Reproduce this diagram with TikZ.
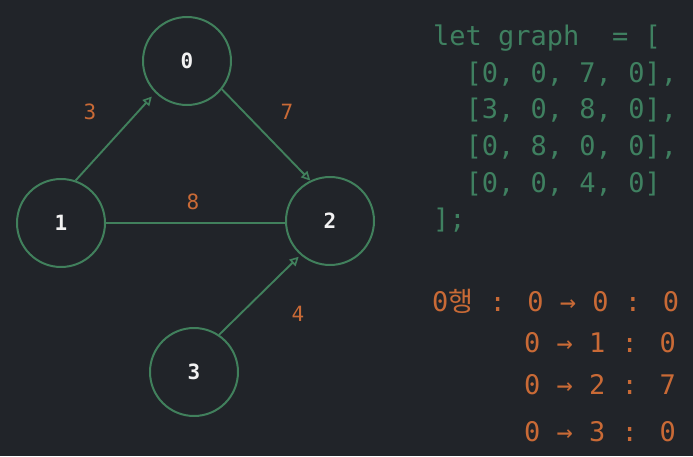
\documentclass[tikz,border=0pt]{standalone}
\usepackage{fontspec}
\newfontfamily\monof{DejaVu Sans Mono}
\newfontfamily\cjk{Noto Sans CJK KR}
\usetikzlibrary{arrows.meta}
\definecolor{bgc}{HTML}{212429}
\definecolor{edgec}{HTML}{41805C}
\definecolor{codec}{HTML}{3F8060}
\definecolor{orangec}{HTML}{C96A36}
\definecolor{labc}{HTML}{F2F2F2}
\tikzset{
  vert/.style={circle, draw=edgec, line width=2pt, minimum size=88pt, inner sep=0pt,
    text=labc, font=\monof\bfseries\fontsize{21}{21}\selectfont},
  conn/.style={draw=edgec, line width=1.9pt},
  arr/.style={conn, -{Triangle[open, length=9pt, width=9pt, line width=1.6pt]}},
  wlab/.style={text=orangec, font=\monof\fontsize{21}{21}\selectfont, inner sep=0pt},
  codeline/.style={anchor=base west, inner sep=0pt, text=codec, font=\monof\fontsize{27}{27}\selectfont},
  outline/.style={anchor=base west, inner sep=0pt, text=orangec, font=\monof\fontsize{27}{27}\selectfont}
}
\begin{document}
\begin{tikzpicture}[x=1pt,y=1pt]
\fill[bgc] (0,0) rectangle (693,456);
\useasboundingbox (0,0) rectangle (693,456);
% vertices
\node[vert] (n0) at (187,395) {0};
\node[vert] (n1) at (61,233) {1};
\node[vert] (n2) at (330,235) {2};
\node[vert] (n3) at (194,84) {3};
% edges
\draw[arr, shorten >=5pt] (n1.71.6) -- (n0.225.8);
\draw[arr] (n0.-39.8) -- (n2.116.6);
\draw[conn] (n1.east) -- (n1.east -| n2.west);
\draw[arr, shorten >=2.5pt] (n3.56.7) -- (n2.229.3);
% weights
\node[wlab] (w10) at (90,344) {3};
\node[wlab] (w02) at (287,344) {7};
\node[wlab] (w12) at (193,254) {8};
\node[wlab] (w32) at (298,142) {4};
% code
\node[codeline] (c0) at (433,410.3) {let graph\ \ = [};
\node[codeline] (c1) at (433,373.7) {\ \ [0, 0, 7, 0],};
\node[codeline] (c2) at (433,337.1) {\ \ [3, 0, 8, 0],};
\node[codeline] (c3) at (433,300.5) {\ \ [0, 8, 0, 0],};
\node[codeline] (c4) at (433,263.9) {\ \ [0, 0, 4, 0]};
\node[codeline] (c5) at (433,227.3) {];};
% output
\node[outline] (o0) at (432,145) {0{\cjk 행} : 0 → 0 : 0};
\node[outline] (o1) at (524,104) {0 → 1 : 0};
\node[outline] (o2) at (524,62) {0 → 2 : 7};
\node[outline] (o3) at (524,15) {0 → 3 : 0};
\end{tikzpicture}
\end{document}
